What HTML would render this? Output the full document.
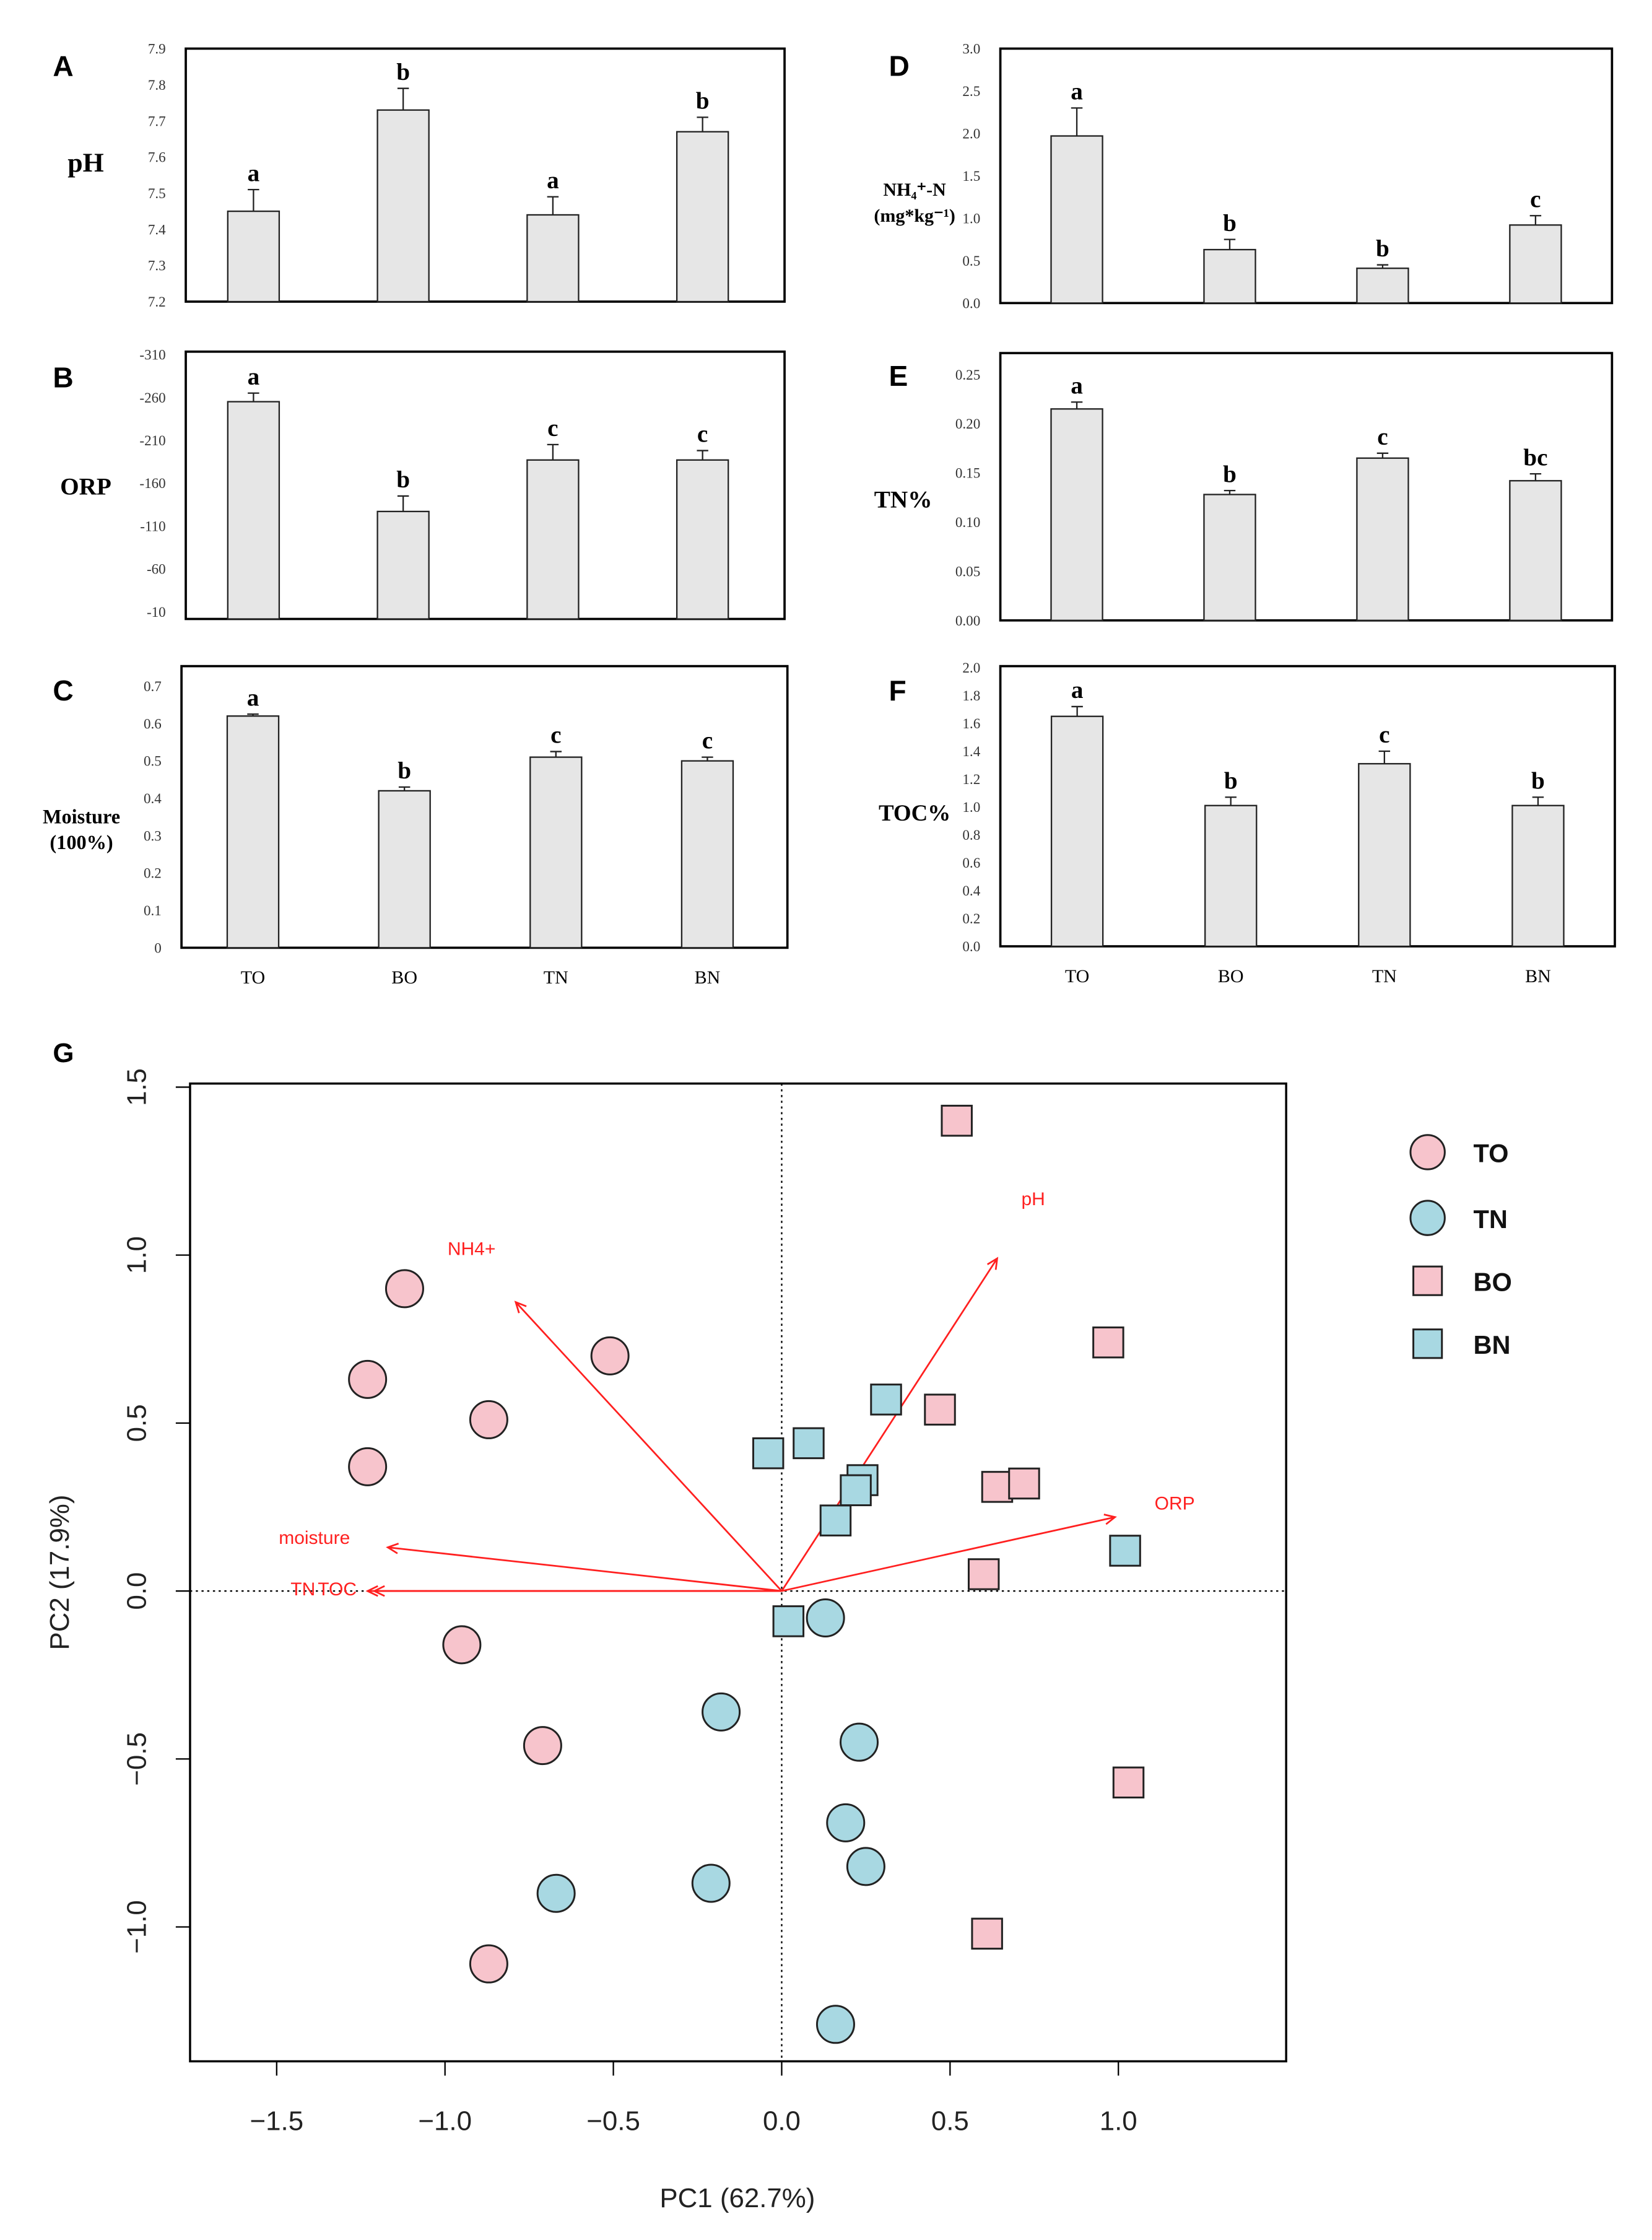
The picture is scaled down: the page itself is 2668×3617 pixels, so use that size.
<!DOCTYPE html>
<html><head><meta charset="utf-8">
<style>
html,body{margin:0;padding:0;background:#fff;}
svg{display:block;}
</style></head>
<body>
<svg id="fig" width="2668" height="3617" viewBox="0 0 1156 1567" preserveAspectRatio="none" xmlns="http://www.w3.org/2000/svg"></svg>
<script>
// ---- Bar chart data ----
const groups = ["TO","BO","TN","BN"];
const phVals = [7.45,7.73,7.44,7.67];
const phErr = [0.06,0.06,0.05,0.04];
const phLetters = ["a","b","a","b"];
const orpVals = [255,127,187,187];
const orpErr = [10,18,18,11];
const orpLetters = ["a","b","c","c"];
const moistVals = [0.62,0.42,0.51,0.50];
const moistErr = [0.005,0.01,0.015,0.01];
const moistLetters = ["a","b","c","c"];
const nhVals = [1.97,0.63,0.41,0.92];
const nhErr = [0.33,0.12,0.04,0.11];
const nhLetters = ["a","b","b","c"];
const tnVals = [0.215,0.128,0.165,0.142];
const tnErr = [0.007,0.004,0.005,0.007];
const tnLetters = ["a","b","c","bc"];
const tocVals = [1.65,1.01,1.31,1.01];
const tocErr = [0.07,0.06,0.09,0.06];
const tocLetters = ["a","b","c","b"];
const phTicks = ["7.2","7.3","7.4","7.5","7.6","7.7","7.8","7.9"];
const orpTicks = ["-10","-60","-110","-160","-210","-260","-310"];
const moistTicks = ["0","0.1","0.2","0.3","0.4","0.5","0.6","0.7"];
const nhTicks = ["0.0","0.5","1.0","1.5","2.0","2.5","3.0"];
const tnTicks = ["0.00","0.05","0.10","0.15","0.20","0.25"];
const tocTicks = ["0.0","0.2","0.4","0.6","0.8","1.0","1.2","1.4","1.6","1.8","2.0"];

// ---- PCA data ----
const toX=[-1.12,-1.23,-0.87,-1.23,-0.51,-0.95,-0.71,-0.87];
const toY=[0.90,0.63,0.51,0.37,0.70,-0.16,-0.46,-1.11];
const tnX=[0.13,-0.18,0.23,0.19,0.25,-0.21,-0.67,0.16];
const tnY=[-0.08,-0.36,-0.45,-0.69,-0.82,-0.87,-0.90,-1.29];
const boX=[0.52,0.97,0.47,0.64,0.72,0.60,1.03,0.61];
const boY=[1.40,0.74,0.54,0.31,0.32,0.05,-0.57,-1.02];
const bnX=[0.31,0.08,-0.04,0.24,0.22,0.16,1.02,0.02];
const bnY=[0.57,0.44,0.41,0.33,0.30,0.21,0.12,-0.09];
const arrowNames=["NH4+","pH","ORP","moisture","TN","TOC"];
const arrowX=[-0.79,0.64,0.99,-1.17,-1.21,-1.23];
const arrowY=[0.86,0.99,0.22,0.13,0.0,0.0];
const xTicks=[-1.5,-1.0,-0.5,0.0,0.5,1.0];
const yTicks=[-1.0,-0.5,0.0,0.5,1.0,1.5];

const NS="http://www.w3.org/2000/svg";
const svg=document.getElementById('fig');
function el(tag,attrs,parent,text){const e=document.createElementNS(NS,tag);for(const k in attrs)e.setAttribute(k,attrs[k]);if(text!==undefined)e.textContent=text;(parent||svg).appendChild(e);return e;}

function barPanel(cfg){
  const g=el('g',{});
  
  
  const {x0,x1,y0,y1,vmin,vmax,vTop,vBot}=cfg;
  const ys=v=>vBot+(v-vmin)/(vmax-vmin)*(vTop-vBot);
  const r=el('rect',{x:x0,y:y0,width:x1-x0,height:y1-y0,fill:'none',stroke:'#000','stroke-width':1.6},g);
  
  const n=cfg.ticks.length;
  cfg.ticks.forEach((t,i)=>{
    const v=vmin+(vmax-vmin)*i/(n-1);
    const tt=el('text',{x:x0-14,y:ys(v)+3.5,'text-anchor':'end','font-family':'Liberation Serif, serif','font-size':10,fill:'#333'},g,t);
    
  });
  const step=(x1-x0)/4;
  cfg.vals.forEach((v,i)=>{
    const cx=x0+step*(i+0.5)+cfg.shift;
    const top=ys(v), et=ys(v+cfg.err[i]);
    const b=el('rect',{x:cx-18,y:top,width:36,height:y1-top,fill:'#e6e6e6',stroke:'#222','stroke-width':1},g);
    
    const e=el('path',{d:`M${cx},${top}V${et}M${cx-4},${et}H${cx+4}`,stroke:'#222','stroke-width':1,fill:'none'},g);
    
    const l=el('text',{x:cx,y:et-6,'text-anchor':'middle','font-family':'Liberation Serif, serif','font-weight':'bold','font-size':17},g,cfg.letters[i]);
    
    if(cfg.xlab){const xl=el('text',{x:cx,y:y1+25,'text-anchor':'middle','font-family':'Liberation Serif, serif','font-size':13},g,groups[i]);
      }
  });
  const pl=el('text',{x:cfg.lx,y:cfg.ly,'font-family':'Liberation Sans, sans-serif','font-weight':'bold','font-size':20},g,cfg.label);
  
  cfg.title.forEach((t,k)=>{const ti=el('text',{x:cfg.tx,y:cfg.ty+k*18,'text-anchor':'middle','font-family':'Liberation Serif, serif','font-weight':'bold','font-size':cfg.tfs},g,t);
    });
}
barPanel({name:'panel-a-ph',x0:130,x1:549,y0:34,y1:211,vmin:7.2,vmax:7.9,vBot:211,vTop:34,ticks:phTicks,vals:phVals,err:phErr,letters:phLetters,shift:-5,label:'A',lx:37,ly:53,title:['pH'],tx:60,ty:120,tfs:19});
barPanel({name:'panel-b-orp',x0:130,x1:549,y0:246,y1:433,vmin:10,vmax:310,vBot:428,vTop:248,ticks:orpTicks,vals:orpVals,err:orpErr,letters:orpLetters,shift:-5,label:'B',lx:37,ly:271,title:['ORP'],tx:60,ty:346,tfs:17});
barPanel({name:'panel-c-moisture',x0:127,x1:551,y0:466,y1:663,vmin:0,vmax:0.7,vBot:663,vTop:480,ticks:moistTicks,vals:moistVals,err:moistErr,letters:moistLetters,shift:-3,label:'C',lx:37,ly:490,title:['Moisture','(100%)'],tx:57,ty:576,tfs:14,xlab:true});
barPanel({name:'panel-d-nh4',x0:700,x1:1128,y0:34,y1:212,vmin:0,vmax:3.0,vBot:212,vTop:34,ticks:nhTicks,vals:nhVals,err:nhErr,letters:nhLetters,shift:0,label:'D',lx:622,ly:53,title:['NH\u2084\u207A-N','(mg*kg\u207B\u00B9)'],tx:640,ty:137,tfs:13});
barPanel({name:'panel-e-tn',x0:700,x1:1128,y0:247,y1:434,vmin:0,vmax:0.25,vBot:434,vTop:262,ticks:tnTicks,vals:tnVals,err:tnErr,letters:tnLetters,shift:0,label:'E',lx:622,ly:270,title:['TN%'],tx:632,ty:355,tfs:17});
barPanel({name:'panel-f-toc',x0:700,x1:1130,y0:466,y1:662,vmin:0,vmax:2.0,vBot:662,vTop:467,ticks:tocTicks,vals:tocVals,err:tocErr,letters:tocLetters,shift:0,label:'F',lx:622,ly:490,title:['TOC%'],tx:640,ty:574,tfs:16,xlab:true});

// ---- PCA panel ----
const G=el('g',{});


const px=v=>547+v*235.6, py=v=>1113-v*235;
const fr=el('rect',{x:133,y:758,width:767,height:684,fill:'none',stroke:'#000','stroke-width':1.5},G);

const gl=el('text',{x:37,y:743,'font-family':'Liberation Sans, sans-serif','font-weight':'bold','font-size':19},G,'G');

const zl=el('path',{d:`M133,${py(0)}H900M${px(0)},758V1442`,stroke:'#000','stroke-width':1,'stroke-dasharray':'1.5,2.5',fill:'none'},G);

xTicks.forEach(t=>{const x=px(t);
  el('line',{x1:x,x2:x,y1:1442,y2:1452,stroke:'#000'},G);
  const tl=el('text',{x:x,y:1490,'text-anchor':'middle','font-family':'Liberation Sans, sans-serif','font-size':19,fill:'#222'},G,t.toFixed(1).replace('-','\u2212'));
  });
yTicks.forEach(t=>{const y=py(t);
  el('line',{x1:123,x2:133,y1:y,y2:y,stroke:'#000'},G);
  const tl=el('text',{x:102,y:y,'text-anchor':'middle','font-family':'Liberation Sans, sans-serif','font-size':19,fill:'#222',transform:`rotate(-90 102 ${y})`},G,t.toFixed(1).replace('-','\u2212'));
  });
const xt=el('text',{x:516,y:1544,'text-anchor':'middle','font-family':'Liberation Sans, sans-serif','font-size':19,fill:'#222'},G,'PC1 (62.7%)');

const yt=el('text',{x:48,y:1100,'text-anchor':'middle','font-family':'Liberation Sans, sans-serif','font-size':19,fill:'#222',transform:'rotate(-90 48 1100)'},G,'PC2 (17.9%)');

// arrows
const labPos=[[330,878],[723,843],[822,1056],[220,1080],[212,1116],[236,1116]];
arrowX.forEach((ax,i)=>{
  const x2=px(ax),y2=py(arrowY[i]),x1=px(0),y1=py(0);
  const a=Math.atan2(y2-y1,x2-x1),h=8;
  const d=`M${x1},${y1}L${x2},${y2}M${x2-h*Math.cos(a-0.45)},${y2-h*Math.sin(a-0.45)}L${x2},${y2}L${x2-h*Math.cos(a+0.45)},${y2-h*Math.sin(a+0.45)}`;
  const ar=el('path',{d:d,stroke:'#ff2020','stroke-width':1.2,fill:'none'},G);
  
  const lt=el('text',{x:labPos[i][0],y:labPos[i][1],'text-anchor':'middle','font-family':'Liberation Sans, sans-serif','font-size':13,fill:'#ff2020'},G,arrowNames[i]);
  
});
function circles(xs,ys,fill,name){xs.forEach((x,i)=>{const c=el('circle',{cx:px(x),cy:py(ys[i]),r:13,fill:fill,stroke:'#222','stroke-width':1.3},G);
  });}
function squares(xs,ys,fill,name){xs.forEach((x,i)=>{const s=el('rect',{x:px(x)-10.5,y:py(ys[i])-10.5,width:21,height:21,fill:fill,stroke:'#222','stroke-width':1.3},G);
  });}
circles(toX,toY,'#f7c4cc','point-to');
circles(tnX,tnY,'#a8d8e2','point-tn');
squares(boX,boY,'#f7c4cc','point-bo');
squares(bnX,bnY,'#a8d8e2','point-bn');
// legend
const legend=[['TO','c','#f7c4cc',806],['TN','c','#a8d8e2',852],['BO','s','#f7c4cc',896],['BN','s','#a8d8e2',940]];
legend.forEach(l=>{
  const lg=el('g',{},G);
  
  
  if(l[1]==='c') el('circle',{cx:999,cy:l[3],r:12,fill:l[2],stroke:'#222','stroke-width':1.3},lg);
  else el('rect',{x:989,y:l[3]-10,width:20,height:20,fill:l[2],stroke:'#222','stroke-width':1.3},lg);
  el('text',{x:1031,y:l[3]+7,'font-family':'Liberation Sans, sans-serif','font-weight':'bold','font-size':18,fill:'#111'},lg,l[0]);
});
</script>
</body></html>
